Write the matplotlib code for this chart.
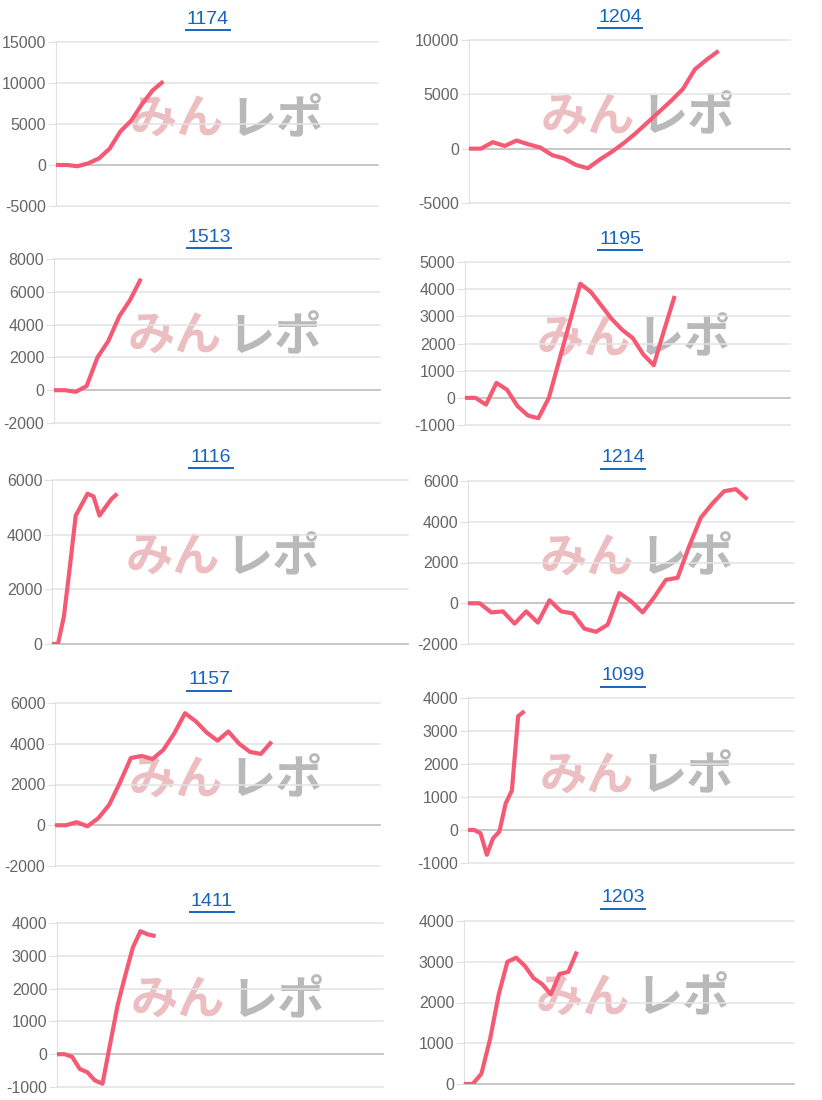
import matplotlib
matplotlib.use("Agg")
import matplotlib.pyplot as plt
from matplotlib.lines import Line2D

plt.rcParams['font.family'] = ['Liberation Sans', 'DejaVu Sans']

titles = ["1174", "1204", "1513", "1195", "1116", "1214", "1157", "1099", "1411", "1203"]
v1174 = [0, 0, -150, 200, 800, 2000, 4100, 5400, 7400, 9100, 10200]
v1204 = [0, 0, 600, 250, 750, 400, 100, -600, -900, -1500, -1800, -1000, -300, 500, 1400, 2400, 3400, 4400, 5500, 7300, 8200, 9000]
v1513 = [0, 0, -100, 250, 2000, 3000, 4500, 5500, 6800]
v1195 = [0, 0, -250, 550, 300, -300, -650, -750, 0, 1400, 2800, 4200, 3900, 3400, 2900, 2500, 2200, 1600, 1200, 2500, 3750]
v1116 = [0, 0, 1000, 2800, 4700, 5100, 5500, 5400, 4700, 5000, 5300, 5500]
v1214 = [0, 0, -450, -400, -1000, -400, -950, 150, -400, -500, -1250, -1400, -1050, 500, 100, -450, 300, 1150, 1250, 2800, 4200, 4900, 5500, 5600, 5100]
v1157 = [0, 0, 150, -50, 350, 1000, 2100, 3300, 3400, 3250, 3700, 4500, 5500, 5100, 4550, 4150, 4600, 4000, 3600, 3500, 4100]
v1099 = [0, 0, -100, -750, -250, -50, 800, 1200, 3450, 3600]
v1411 = [0, 0, -80, -450, -550, -800, -900, 300, 1500, 2400, 3250, 3750, 3650, 3600]
v1203 = [0, 0, 250, 1100, 2200, 3000, 3100, 2900, 2600, 2450, 2200, 2700, 2750, 3250]
series = [v1174, v1204, v1513, v1195, v1116, v1214, v1157, v1099, v1411, v1203]
yticks = [
    [-5000, 0, 5000, 10000, 15000],
    [-5000, 0, 5000, 10000],
    [-2000, 0, 2000, 4000, 6000, 8000],
    [-1000, 0, 1000, 2000, 3000, 4000, 5000],
    [0, 2000, 4000, 6000],
    [-2000, 0, 2000, 4000, 6000],
    [-2000, 0, 2000, 4000, 6000],
    [-1000, 0, 1000, 2000, 3000, 4000],
    [-1000, 0, 1000, 2000, 3000, 4000],
    [0, 1000, 2000, 3000, 4000],
]
xmax = [30, 27, 30, 31, 60, 28, 30, 52, 43, 38]

W, H = 822, 1100
fig = plt.figure(figsize=(8.22, 11.0), dpi=100)
boxes = [
    (56, 378, 42, 206), (469, 790, 40, 203),
    (54, 380, 259, 423), (465, 790, 262, 425),
    (52, 408, 480, 644), (468, 794, 481, 644),
    (55, 380, 703, 866), (468, 794, 698, 863),
    (57, 383, 923, 1087), (464, 794, 921, 1084),
]
titley = [19, 17, 237, 239, 457, 458, 680, 676, 901, 898]
titlex = [208, 620, 209, 620, 211, 623, 209, 623, 212, 623]
red = "#f55a75"
for i, (t, v) in enumerate(zip(titles, series)):
    l, r, tp, b = boxes[i]
    ax = fig.add_axes([l / W, 1 - b / H, (r - l) / W, (b - tp) / H])
    ax.set_zorder(2)
    ax.patch.set_alpha(0)
    ax.plot(range(len(v)), v, color=red, lw=3, solid_capstyle="butt", zorder=3)
    yt = yticks[i]
    ax.set_ylim(yt[0], yt[-1])
    ax.set_yticks(yt)
    ax.set_yticklabels([str(y) for y in yt])
    ax.set_xlim(0, xmax[i])
    ax.set_xticks([])
    for s in ["top", "right", "bottom"]:
        ax.spines[s].set_visible(False)
    ax.spines["left"].set_color("#e0e0e0")
    ax.tick_params(axis="y", length=6, color="#e0e0e0", labelcolor="#666666", labelsize=11.5, pad=1)
    for y in yt:
        ax.axhline(y, color="#bdbdbd" if y == 0 else "#e3e3e3", lw=1.2 if y == 0 else 1.1,
                   zorder=1, clip_on=False)
    cx = titlex[i] / W
    ty = 1 - titley[i] / H
    fig.text(cx, ty, t, color="#1565c0", fontsize=14, ha="center", va="center")
    fig.add_artist(Line2D([cx - 22 / W, cx + 22 / W], [ty - 11 / H, ty - 11 / H], color="#1565c0", lw=1.4))
    wy = 1 - (tp + b) / 2 / H + 4 / H
    wx = (l + 74) / W if i % 2 == 0 else (l + 72) / W
    fig.text(wx, wy, "みん", color="#e8a8ac", alpha=0.75, fontsize=34, fontweight="bold",
             fontstyle="italic", family="Noto Sans CJK JP", va="center", ha="left", zorder=1)
    fig.text(wx + 100 / W, wy, "レポ", color="#a8a8a8", alpha=0.8, fontsize=34, fontweight="bold",
             fontstyle="italic", family="Noto Sans CJK JP", va="center", ha="left", zorder=1)

fig.savefig("out.png", dpi=100, facecolor="white")
